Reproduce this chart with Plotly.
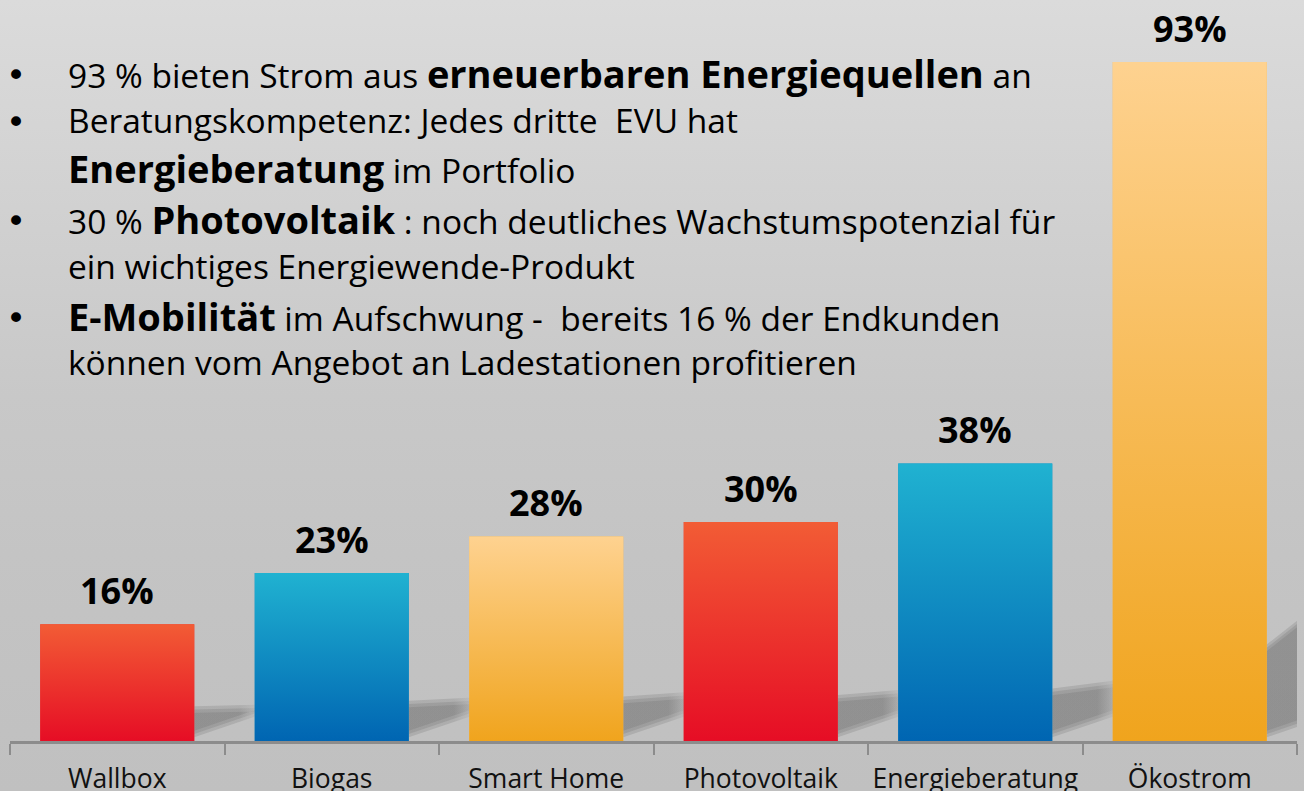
import plotly.graph_objects as go

# ---------------- data ----------------
categories = ["Wallbox", "Biogas", "Smart Home", "Photovoltaik", "Energieberatung", "Ökostrom"]
values = [16, 23, 28, 30, 38, 93]
value_labels = ["16%", "23%", "28%", "30%", "38%", "93%"]
palette = ["red", "blue", "orange", "red", "blue", "orange"]

B = "<span style='font-size:38px'><b>{}</b></span>"
bullet_lines = [
    ("•", "93 % bieten Strom aus " + B.format("erneuerbaren Energiequellen") + " an"),
    ("•", "Beratungskompetenz: Jedes dritte  EVU hat"),
    ("", B.format("Energieberatung") + " im Portfolio"),
    ("•", "30 % " + B.format("Photovoltaik") + " : noch deutliches Wachstumspotenzial für"),
    ("", "ein wichtiges Energiewende-Produkt"),
    ("•", B.format("E-Mobilität") + " im Aufschwung -  bereits 16 % der Endkunden"),
    ("", "können vom Angebot an Ladestationen profitieren"),
]

# ---------------- styles ----------------
W, H = 1304, 791
GRAD = {
    "red": ("#e60d25", "#f25c35"),
    "blue": ("#0065b2", "#20b2d1"),
    "orange": ("#f0a41d", "#fed290"),
}
MID = {"red": "#ec3530", "blue": "#108cc2", "orange": "#f6bb56"}
BAR_W = 0.718
X_LEFT, X_RIGHT = 10, 1297
AXIS_Y = 741
PX_PER_UNIT = 7.30
Y_MAX = AXIS_Y / PX_PER_UNIT
FONT = "Open Sans"

fig = go.Figure()

# background gradient (full-paper subplot x/y)
fig.add_trace(go.Scatter(
    x=[0, 1, 1, 0, 0], y=[0, 0, 1, 1, 0], xaxis="x", yaxis="y",
    mode="lines", line=dict(width=0), fill="toself",
    fillgradient=dict(type="vertical",
                      colorscale=[[0, "#c0c0c0"], [0.3, "#c4c4c4"], [0.5, "#c8c8c8"], [1, "#dbdbdb"]]),
    hoverinfo="skip", showlegend=False,
))


def shade(a):
    return f"rgba(95,95,95,{a:.3f})"


# soft (layered) shadows cast to the right of each bar
SH_W = 0.3
for i, v in enumerate(values):
    xr = i + BAR_W / 2
    top_l = 0.11 * v + 3
    top_r = top_l + 0.0008 * v * v
    for d in (0.9, 0.45, 0.0):
        a = 0.2
        fig.add_trace(go.Scatter(
            x=[xr, xr + SH_W, xr + SH_W, xr, xr],
            y=[0.5 + d, 3.5 + d, top_r - d, top_l - d, 0.5 + d],
            xaxis="x2", yaxis="y2", mode="lines", line=dict(width=0), fill="toself",
            fillgradient=dict(type="horizontal",
                              colorscale=[[0, shade(a)], [0.7, shade(a)], [1, shade(a * 0.25)]]),
            hoverinfo="skip", showlegend=False,
        ))

# bars
fig.add_trace(go.Bar(
    x=list(range(len(categories))), y=values, width=BAR_W,
    marker=dict(color=[MID[p] for p in palette], line=dict(width=0)),
    xaxis="x2", yaxis="y2", showlegend=False, hoverinfo="skip",
))

# vertical gradient overlay for each bar
for i, (v, p) in enumerate(zip(values, palette)):
    bottom, top = GRAD[p]
    fig.add_trace(go.Scatter(
        x=[i - BAR_W / 2, i + BAR_W / 2, i + BAR_W / 2, i - BAR_W / 2, i - BAR_W / 2],
        y=[0, 0, v, v, 0], xaxis="x2", yaxis="y2",
        mode="lines", line=dict(width=0), fill="toself",
        fillgradient=dict(type="vertical", colorscale=[[0, bottom], [1, top]]),
        hoverinfo="skip", showlegend=False,
    ))

annotations = []
for i, (v, lab) in enumerate(zip(values, value_labels)):
    annotations.append(dict(
        x=i, y=v, xref="x2", yref="y2", text=f"<b>{lab}</b>", showarrow=False,
        xanchor="center", yanchor="middle", yshift=34,
        font=dict(family=FONT, size=36, color="#000000"),
    ))

line_y = [73, 120, 168, 219, 266, 316, 362]
for (b, t), yc in zip(bullet_lines, line_y):
    if b:
        annotations.append(dict(
            x=16 / W, y=1 - (yc + 2) / H, xref="paper", yref="paper", text=b, showarrow=False,
            xanchor="center", yanchor="middle", font=dict(family="DejaVu Sans", size=34, color="#000000"),
        ))
    annotations.append(dict(
        x=66 / W, y=1 - yc / H, xref="paper", yref="paper", text=t, showarrow=False,
        xanchor="left", yanchor="middle", align="left",
        font=dict(family=FONT, size=33.5, color="#000000"),
    ))

fig.update_layout(
    width=W, height=H,
    margin=dict(l=0, r=0, t=0, b=0),
    paper_bgcolor="#c6c6c6", plot_bgcolor="rgba(0,0,0,0)",
    showlegend=False,
    xaxis=dict(domain=[0, 1], range=[0, 1], visible=False, fixedrange=True, automargin=False),
    yaxis=dict(domain=[0, 1], range=[0, 1], visible=False, fixedrange=True, automargin=False),
    xaxis2=dict(
        domain=[X_LEFT / W, X_RIGHT / W], range=[-0.5, len(categories) - 0.5], anchor="y2",
        tickmode="array", tickvals=list(range(len(categories))), ticktext=categories,
        ticks="", showgrid=False, zeroline=False, automargin=False,
        showline=True, linecolor="#8c8c8c", linewidth=3,
        tickfont=dict(family=FONT, size=26.5, color="#111111"),
        ticklabelstandoff=12,
        minor=dict(tickmode="array", tickvals=[k - 0.5 for k in range(len(categories) + 1)],
                   ticks="outside", ticklen=11, tickwidth=2, tickcolor="#8c8c8c", showgrid=False),
        fixedrange=True,
    ),
    yaxis2=dict(
        domain=[(H - AXIS_Y) / H, 1], range=[0, Y_MAX], anchor="x2", automargin=False,
        visible=False, showgrid=False, zeroline=False, fixedrange=True,
    ),
    annotations=annotations,
)

fig.write_html(
    "out.html",
    config={"displayModeBar": False},
    post_script="document.body.style.margin='0';document.body.style.overflow='hidden';",
)
